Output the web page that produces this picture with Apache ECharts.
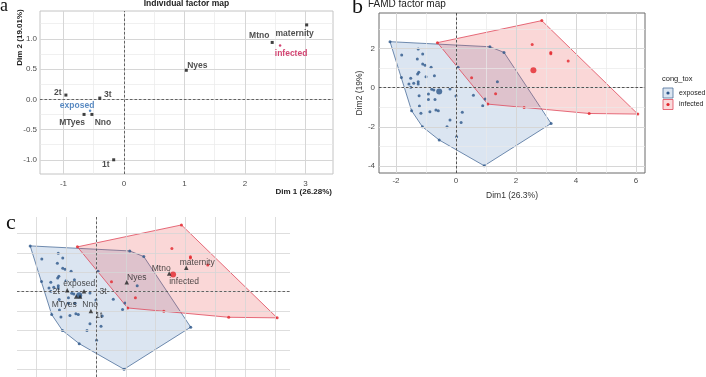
<!DOCTYPE html>
<html>
<head>
<meta charset="utf-8">
<script src="https://cdn.jsdelivr.net/npm/echarts@6/dist/echarts.min.js"></script>
<style>
html,body{margin:0;padding:0;background:#fff;}
#main{width:706px;height:377px;}
</style>
</head>
<body>
<div id="main"></div>
<script>
// category coordinates (panel a, reused as triangles in panel c)
var catNames = ['2t', '3t', 'MTyes', 'Nno', '1t', 'Nyes', 'Mtno', 'maternity'];
var catDim1 = [-0.96, -0.40, -0.66, -0.53, -0.17, 1.03, 2.45, 3.02];
var catDim2 = [0.07, 0.02, -0.25, -0.25, -1.00, 0.48, 0.94, 1.23];

// group centres (exposed / infected)
var groupNames = ['exposed', 'infected'];
var groupDim1 = [-0.56, 2.58];
var groupDim2 = [-0.19, 0.89];

// individuals, cong_tox = exposed
var expDim1 = [-2.20, 1.13, 1.60, 3.17, 0.94, -0.56, -1.12, -1.48, -1.82,
  -1.81, -1.26, -1.11, -1.29, -1.11, -1.03, -0.83, -1.24, -1.28, -1.00, -0.72,
  -1.51, -1.57, -1.41, -1.26, -1.26, -1.51, -0.81, -0.74, -0.92, -1.23, -0.20,
  0.00, -0.70, -0.92, 0.58, 0.07, -1.22, -1.17, -0.87, -0.67, -0.59, 0.21,
  -0.20, 0.17, -0.30, 0.02, 0.89, 0.97, 1.38];
var expDim2 = [2.36, 2.10, 1.81, -1.83, -4.00, -2.68, -2.00, -1.18, 0.53,
  1.68, 1.98, 1.73, 1.47, 1.21, 1.15, 1.05, 0.79, 0.70, 0.56, 0.62,
  0.48, 0.19, 0.23, 0.31, 0.19, 0.02, -0.08, -0.12, -0.32, -0.41, -0.07,
  -0.43, -0.60, -0.60, -0.39, 1.05, -0.94, -1.31, -1.23, -1.14, -1.18, -1.26,
  -1.66, -1.78, -2.00, -2.51, -0.92, -0.58, 0.31];

// individuals, cong_tox = infected
var infDim1 = [-0.62, 2.86, 6.06, 4.44, 2.27, 1.06, 2.54, 3.16, 3.16, 3.74, 0.52, 1.32];
var infDim2 = [2.31, 3.44, -1.35, -1.32, -1.01, -0.84, 2.22, 1.80, 1.74, 1.37, 0.51, -0.31];

// ticks / grid breaks
var aXTicks = [-1, 0, 1, 2, 3];
var aXMinor = [-0.5, 0.5, 1.5, 2.5];
var aYTicks = [-1, -0.5, 0, 0.5, 1];
var aYMinor = [-0.75, -0.25, 0.25, 0.75, 1.25];
var bXTicks = [-2, 0, 2, 4, 6];
var bXMinor = [-1, 1, 3, 5];
var bYTicks = [-4, -2, 0, 2];
var bYMinor = [-3, -1, 1, 3];
var cXBreaks = [-2, -1, 0, 1, 2, 3, 4, 5, 6];
var cYBreaks = [-4, -3, -2, -1, 0, 1, 2, 3];

// label placement (pixels, relative to the point)
var aLabelOffset = {
  '2t': [-8, -2], '3t': [8, -3], 'MTyes': [-12, 8], 'Nno': [11, 8], '1t': [-8, 5],
  'Nyes': [11, -5], 'Mtno': [-13, -7], 'maternity': [-12, 9],
  'exposed': [-13, -5], 'infected': [11, 8]
};
var cLabelOffset = {
  '2t': [-11, 1], '3t': [19, 0], 'MTyes': [-12, 8], 'Nno': [10, 8], '1t': [8, 5],
  'Nyes': [10, -5], 'Mtno': [-8, -5], 'maternity': [11, -5],
  'exposed': [0, -12], 'infected': [11, 7.5]
};

var BLUE = '#2c568a', RED = '#e3242b';
var FONT = 'Liberation Sans';

function zip(a, b) {
  return a.map(function (v, i) { return [v, b[i]]; });
}

// convex hull (monotone chain)
function hull(pts) {
  var p = pts.slice().sort(function (a, b) { return a[0] - b[0] || a[1] - b[1]; });
  function cross(o, a, b) { return (a[0] - o[0]) * (b[1] - o[1]) - (a[1] - o[1]) * (b[0] - o[0]); }
  var lo = [], up = [];
  p.forEach(function (q) {
    while (lo.length >= 2 && cross(lo[lo.length - 2], lo[lo.length - 1], q) <= 0) lo.pop();
    lo.push(q);
  });
  p.slice().reverse().forEach(function (q) {
    while (up.length >= 2 && cross(up[up.length - 2], up[up.length - 1], q) <= 0) up.pop();
    up.push(q);
  });
  lo.pop(); up.pop();
  return lo.concat(up);
}

function hullSeries(pts, ai, fill, stroke) {
  var h = hull(pts);
  return {
    type: 'custom', xAxisIndex: ai, yAxisIndex: ai, silent: true, z: 1,
    data: [h[0]],
    renderItem: function (params, api) {
      return {
        type: 'polygon',
        shape: { points: h.map(function (p) { return api.coord(p); }) },
        style: { fill: fill, stroke: stroke, lineWidth: 0.8 }
      };
    }
  };
}

function lineSeries(ai, xs, ys, color, width, type, z) {
  return {
    type: 'line', xAxisIndex: ai, yAxisIndex: ai, data: [], silent: true, z: z,
    markLine: {
      silent: true, symbol: ['none', 'none'], label: { show: false }, animation: false,
      lineStyle: { color: color, width: width, type: type },
      emphasis: { disabled: true },
      data: xs.map(function (x) { return { xAxis: x }; })
        .concat(ys.map(function (y) { return { yAxis: y }; }))
    }
  };
}

function dots(ai, d1, d2, color, size, z) {
  return {
    type: 'scatter', xAxisIndex: ai, yAxisIndex: ai, symbolSize: size, z: z,
    itemStyle: { color: color }, silent: true,
    data: zip(d1, d2)
  };
}

function labelled(ai, names, d1, d2, offsets, opt) {
  return {
    type: 'scatter', xAxisIndex: ai, yAxisIndex: ai, silent: true, z: opt.z || 5,
    symbol: opt.symbol, symbolSize: opt.size,
    data: names.map(function (n, i) {
      var colour = opt.colors ? opt.colors[i] : opt.color;
      return {
        name: n, value: [d1[i], d2[i]],
        itemStyle: { color: colour },
        label: { offset: offsets[n], color: opt.labelColors ? opt.labelColors[i] : opt.labelColor }
      };
    }),
    label: {
      show: true, formatter: '{b}', position: 'inside', align: 'center', verticalAlign: 'middle',
      fontFamily: FONT, fontSize: opt.fontSize, fontWeight: opt.bold ? 'bold' : 'normal'
    }
  };
}

var tickLabelA = { color: '#4d4d4d', fontSize: 8, fontFamily: FONT };
var MAJOR = '#d6d6d6', MINOR = '#e9e9e9';

var option = {
  animation: false,
  backgroundColor: '#fff',
  grid: [
    { left: 40, top: 11, width: 293, height: 163, show: true, borderColor: '#c4c4c4', borderWidth: 1, backgroundColor: 'transparent' },
    { left: 379, top: 13, width: 266, height: 160, show: true, borderColor: '#6b6b6b', borderWidth: 1, backgroundColor: 'transparent' },
    { left: 17, top: 217, width: 273, height: 160 }
  ],
  xAxis: [
    {
      gridIndex: 0, type: 'value', min: -1.388, max: 3.455,
      splitLine: { show: false }, axisLine: { show: false },
      axisTick: { show: false },
      axisLabel: Object.assign({ customValues: aXTicks, margin: 6 }, tickLabelA)
    },
    {
      gridIndex: 1, type: 'value', min: -2.567, max: 6.3,
      splitLine: { show: false }, axisLine: { show: false },
      axisTick: { show: true, length: 2.5, customValues: bXTicks, lineStyle: { color: '#444', width: 0.8 } },
      axisLabel: Object.assign({ customValues: bXTicks, margin: 4 }, tickLabelA),
      name: 'Dim1 (26.3%)', nameLocation: 'middle', nameGap: 18,
      nameTextStyle: { fontFamily: FONT, fontSize: 8.5, color: '#333' }
    },
    { gridIndex: 2, type: 'value', min: -2.64, max: 6.49, show: false }
  ],
  yAxis: [
    {
      gridIndex: 0, type: 'value', min: -1.235, max: 1.46,
      splitLine: { show: false }, axisLine: { show: false },
      axisTick: { show: false },
      axisLabel: Object.assign({ customValues: aYTicks, margin: 3,
        formatter: function (v) { return v.toFixed(1); } }, tickLabelA)
    },
    {
      gridIndex: 1, type: 'value', min: -4.37, max: 3.83,
      splitLine: { show: false }, axisLine: { show: false },
      axisTick: { show: true, length: 2.5, customValues: bYTicks, lineStyle: { color: '#444', width: 0.8 } },
      axisLabel: Object.assign({ customValues: bYTicks, margin: 4 }, tickLabelA),
      name: 'Dim2 (19%)', nameLocation: 'middle', nameGap: 14,
      nameTextStyle: { fontFamily: FONT, fontSize: 8.5, color: '#333' }
    },
    { gridIndex: 2, type: 'value', min: -4.40, max: 3.85, show: false }
  ],
  graphic: [
    { type: 'text', x: 0, y: -3, style: { text: 'a', fontFamily: 'Liberation Serif', fontSize: 18, fill: '#111' } },
    { type: 'text', x: 186.5, y: 3.5, style: { text: 'Individual factor map', fontFamily: FONT, fontWeight: 'bold', fontSize: 8.5, fill: '#222', align: 'center', verticalAlign: 'middle' } },
    { type: 'text', x: 332, y: 191.5, style: { text: 'Dim 1 (26.28%)', fontFamily: FONT, fontWeight: 'bold', fontSize: 8, fill: '#222', align: 'right', verticalAlign: 'middle' } },
    { type: 'text', x: 20, y: 37.5, rotation: Math.PI / 2, style: { text: 'Dim 2 (19.01%)', fontFamily: FONT, fontWeight: 'bold', fontSize: 8, fill: '#222', align: 'center', verticalAlign: 'middle' } },

    { type: 'text', x: 352, y: -4, style: { text: 'b', fontFamily: 'Liberation Serif', fontSize: 22, fill: '#111' } },
    { type: 'text', x: 368, y: 4.5, style: { text: 'FAMD factor map', fontFamily: FONT, fontSize: 10, fill: '#222', verticalAlign: 'middle' } },
    { type: 'text', x: 662, y: 79, style: { text: 'cong_tox', fontFamily: FONT, fontSize: 7.5, fill: '#222', verticalAlign: 'middle' } },
    { type: 'rect', shape: { x: 663, y: 88, width: 10, height: 10 }, style: { fill: 'rgba(74,123,183,0.2)', stroke: '#4d6e9a', lineWidth: 0.8 } },
    { type: 'circle', shape: { cx: 668, cy: 93, r: 1.6 }, style: { fill: BLUE } },
    { type: 'text', x: 679, y: 93, style: { text: 'exposed', fontFamily: FONT, fontSize: 7, fill: '#222', verticalAlign: 'middle' } },
    { type: 'rect', shape: { x: 663, y: 99.5, width: 10, height: 10 }, style: { fill: 'rgba(232,71,74,0.2)', stroke: '#e0485a', lineWidth: 0.8 } },
    { type: 'circle', shape: { cx: 668, cy: 104.5, r: 1.6 }, style: { fill: RED } },
    { type: 'text', x: 679, y: 104.5, style: { text: 'infected', fontFamily: FONT, fontSize: 7, fill: '#222', verticalAlign: 'middle' } },

    { type: 'text', x: 6, y: 212, style: { text: 'c', fontFamily: 'Liberation Serif', fontSize: 22, fill: '#111' } }
  ],
  series: [
    // panel a
    lineSeries(0, aXMinor, aYMinor, MINOR, 0.7, 'solid', 0),
    lineSeries(0, aXTicks, aYTicks, MAJOR, 1, 'solid', 0),
    lineSeries(0, [0], [0], '#555', 0.9, [2.5, 2], 3),
    labelled(0, catNames, catDim1, catDim2, aLabelOffset,
      { symbol: 'rect', size: 3, color: '#111', labelColor: '#222', fontSize: 8.5, bold: true }),
    labelled(0, groupNames, groupDim1, groupDim2, aLabelOffset,
      { symbol: 'circle', size: 2.5, colors: ['#2f6db3', '#c8174f'], labelColors: ['#2f6db3', '#c8174f'], fontSize: 8.5, bold: true }),

    // panel b
    lineSeries(1, bXMinor, bYMinor, MINOR, 0.7, 'solid', 0),
    lineSeries(1, bXTicks, bYTicks, MAJOR, 1, 'solid', 0),
    hullSeries(zip(expDim1, expDim2), 1, 'rgba(74,123,183,0.2)', '#4d6e9a'),
    hullSeries(zip(infDim1, infDim2), 1, 'rgba(232,71,74,0.22)', '#e0485a'),
    lineSeries(1, [0], [0], '#444', 0.9, [2.5, 2], 3),
    dots(1, expDim1, expDim2, BLUE, 3, 4),
    dots(1, infDim1, infDim2, RED, 3, 4),
    {
      type: 'scatter', xAxisIndex: 1, yAxisIndex: 1, symbolSize: 6, z: 5, silent: true,
      data: groupNames.map(function (n, i) {
        return { name: n, value: [groupDim1[i], groupDim2[i]], itemStyle: { color: i ? RED : BLUE } };
      })
    },

    // panel c
    lineSeries(2, cXBreaks, cYBreaks, MAJOR, 0.8, 'solid', 0),
    hullSeries(zip(expDim1, expDim2), 2, 'rgba(74,123,183,0.2)', '#4d6e9a'),
    hullSeries(zip(infDim1, infDim2), 2, 'rgba(232,71,74,0.22)', '#e0485a'),
    lineSeries(2, [0], [0], '#555', 0.9, [2.5, 2], 3),
    dots(2, expDim1, expDim2, BLUE, 3, 4),
    dots(2, infDim1, infDim2, RED, 3, 4),
    labelled(2, groupNames, groupDim1, groupDim2, cLabelOffset,
      { symbol: 'circle', size: 6, colors: [BLUE, RED], labelColor: '#222', fontSize: 8.5, bold: false }),
    labelled(2, catNames, catDim1, catDim2, cLabelOffset,
      { symbol: 'triangle', size: 4.5, color: '#222', labelColor: '#222', fontSize: 8.5, bold: false, z: 6 })
  ]
};

var myChart = echarts.init(document.getElementById('main'), null, { renderer: 'canvas' });
myChart.setOption(option);
</script>
</body>
</html>
